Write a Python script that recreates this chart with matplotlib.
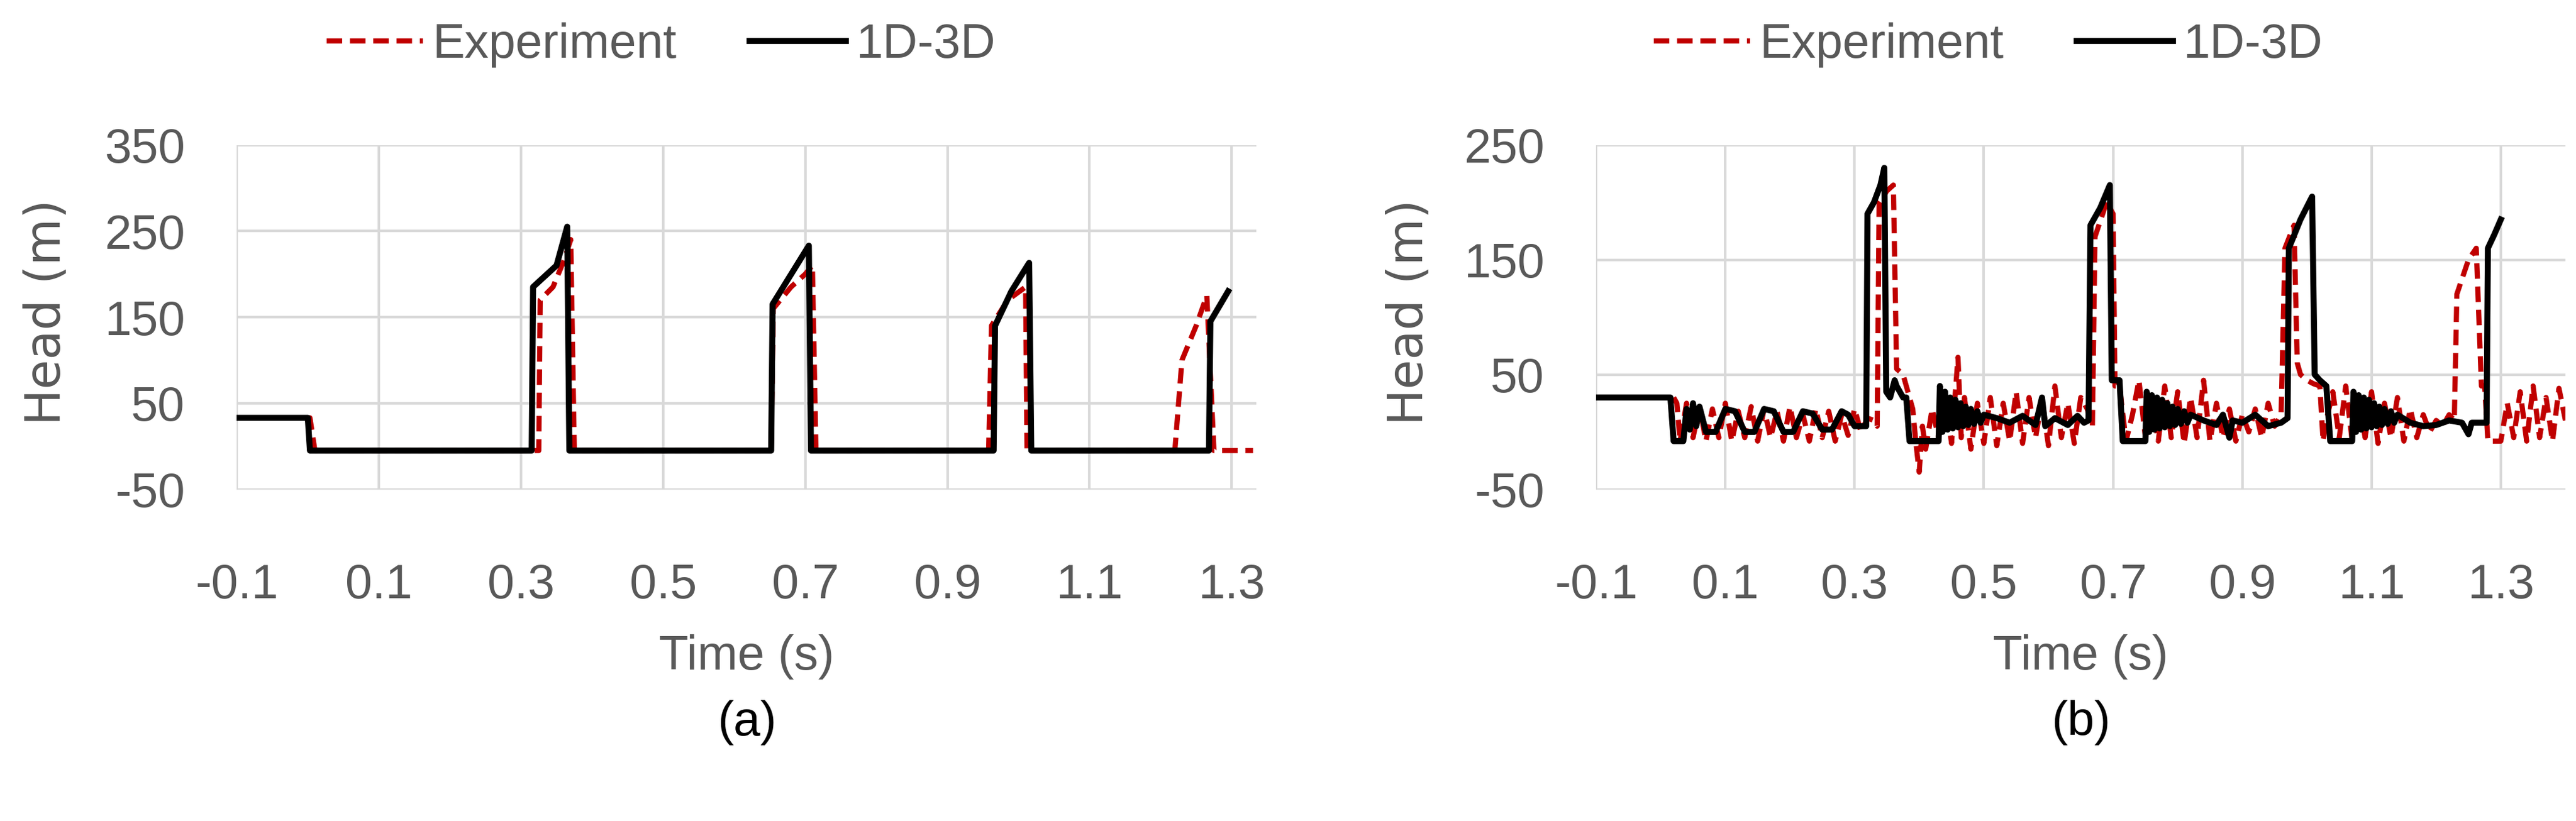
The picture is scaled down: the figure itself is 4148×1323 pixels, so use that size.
import matplotlib
matplotlib.use("Agg")
import matplotlib.pyplot as plt
import numpy as np

# ---------- Panel (a) ----------
a_exp_t = [-0.1, 0.003, 0.01, 0.325, 0.327, 0.345, 0.36, 0.37, 0.375, 0.652, 0.655, 0.68, 0.7, 0.71, 0.715,
           0.958, 0.962, 0.985, 1.01, 1.012, 1.22, 1.23, 1.25, 1.265, 1.275, 1.33]
a_exp_h = [33, 33, -5, -5, 170, 185, 215, 240, -5, -5, 160, 185, 200, 210, -5,
           -5, 140, 170, 185, -5, -5, 100, 140, 175, -5, -5]
a_sim_t = [-0.1, 0.0, 0.003, 0.315, 0.317, 0.35, 0.365, 0.368, 0.652, 0.654, 0.705, 0.708,
           0.965, 0.967, 0.99, 1.015, 1.018, 1.268, 1.27, 1.295]
a_sim_h = [33, 33, -5, -5, 185, 210, 255, -5, -5, 165, 233, -5,
           -5, 140, 180, 213, -5, -5, 145, 180]

# ---------- Panel (b) ----------
b_sim_t = [-0.1, 0.015, 0.02, 0.035, 0.04, 0.045, 0.05, 0.055, 0.06, 0.07, 0.085, 0.1, 0.115, 0.13,
           0.145, 0.16, 0.175, 0.19, 0.205, 0.22, 0.235, 0.25, 0.265, 0.28, 0.29, 0.3, 0.318,
           0.32, 0.33, 0.34, 0.346, 0.349, 0.355, 0.362, 0.365, 0.375, 0.38, 0.385, 0.43,
           0.432, 0.436, 0.44, 0.444, 0.448, 0.452, 0.456, 0.46, 0.464, 0.468, 0.472, 0.476,
           0.48, 0.485, 0.49, 0.495, 0.5, 0.52, 0.54, 0.56, 0.58, 0.59, 0.595, 0.61, 0.63,
           0.645, 0.655, 0.662, 0.665, 0.68, 0.695, 0.698, 0.71, 0.715, 0.75,
           0.752, 0.756, 0.76, 0.764, 0.768, 0.772, 0.776, 0.78, 0.784, 0.788, 0.792, 0.796,
           0.8, 0.805, 0.81, 0.815, 0.82, 0.84, 0.86, 0.87, 0.88, 0.885, 0.9, 0.92, 0.94,
           0.96, 0.97, 0.972, 0.99, 1.008, 1.012, 1.02, 1.03, 1.036, 1.07,
           1.072, 1.076, 1.08, 1.084, 1.088, 1.092, 1.096, 1.1, 1.104, 1.108, 1.112, 1.116,
           1.12, 1.125, 1.13, 1.135, 1.14, 1.16, 1.18, 1.2, 1.22, 1.24, 1.25, 1.255, 1.27,
           1.278, 1.28, 1.29, 1.3]
b_sim_h = [30, 30, -8, -8, 20, 2, 25, 5, 22, 0, 0, 20, 18, 0,
           0, 20, 18, 0, 0, 18, 16, 2, 2, 18, 15, 5, 5,
           190, 200, 215, 230, 35, 30, 45, 40, 30, 30, -8, -8,
           40, 0, 35, 2, 30, 3, 28, 4, 25, 5, 22, 6,
           20, 7, 18, 8, 15, 12, 8, 14, 6, 30, 5, 12, 6,
           14, 8, 10, 180, 195, 215, 45, 45, -8, -8,
           35, 0, 32, 2, 30, 3, 28, 4, 25, 5, 22, 6,
           20, 7, 18, 8, 15, 10, 6, 15, -5, 10, 8, 15, 5,
           8, 12, 160, 185, 205, 50, 45, 40, -8, -8,
           35, 0, 32, 2, 30, 3, 28, 4, 25, 5, 22, 6,
           20, 7, 18, 8, 15, 8, 5, 6, 10, 8, -2, 8, 8,
           8, 160, 172, 185]

b_exp_t = [0.02, 0.025, 0.03, 0.04, 0.05, 0.06, 0.07, 0.08, 0.09, 0.1, 0.11, 0.12, 0.13, 0.14,
           0.15, 0.16, 0.17, 0.18, 0.19, 0.2, 0.21, 0.22, 0.23, 0.24, 0.25, 0.26, 0.27, 0.28,
           0.29, 0.3, 0.31, 0.32, 0.33, 0.335, 0.338, 0.35, 0.36, 0.365, 0.375, 0.39, 0.395,
           0.4, 0.405, 0.41, 0.42, 0.43, 0.44, 0.45, 0.46, 0.465, 0.47, 0.48, 0.49, 0.5,
           0.51, 0.52, 0.53, 0.54, 0.55, 0.56, 0.57, 0.58, 0.59, 0.6, 0.61, 0.62, 0.63, 0.64,
           0.65, 0.66, 0.668, 0.672, 0.69, 0.7, 0.703, 0.71, 0.72, 0.73, 0.74, 0.75, 0.76,
           0.77, 0.78, 0.79, 0.8, 0.81, 0.82, 0.83, 0.84, 0.85, 0.86, 0.87, 0.88, 0.89,
           0.9, 0.91, 0.92, 0.93, 0.94, 0.95, 0.96, 0.966, 0.98, 0.985, 0.99, 1.0, 1.01,
           1.02, 1.025, 1.03, 1.04, 1.05, 1.06, 1.07, 1.08, 1.09, 1.1, 1.11, 1.12, 1.13,
           1.14, 1.15, 1.16, 1.17, 1.18, 1.19, 1.2, 1.21, 1.22, 1.228, 1.232, 1.25, 1.262,
           1.27, 1.275, 1.28, 1.3, 1.31, 1.32, 1.33, 1.34, 1.35, 1.36, 1.37, 1.38, 1.39, 1.4]
b_exp_h = [30, 25, -8, 25, -5, 22, -8, 20, -5, 25, -8, 18, -5, 22,
           -8, 20, -5, 18, -8, 22, -5, 15, -8, 20, -5, 18, -8, 15,
           -3, 20, 0, 12, 10, 5, 200, 210, 215, 55, 50, 20, -10,
           -35, 5, -15, 20, -5, 35, -10, 65, -5, 30, -15, 25, -10,
           30, -12, 25, -8, 35, -10, 30, -5, 28, -12, 40, -5, 25, -10,
           30, 20, 5, 170, 200, 190, 40, 40, -8, 15, 45, -5, 30,
           -8, 40, -5, 35, -10, 30, -5, 45, -8, 25, -5, 20, -8,
           15, 0, 20, -5, 25, 5, 15, 160, 180, 60, 50, 45, 42,
           40, -8, 10, 35, -5, 40, -8, 30, -5, 35, -10, 25, -5,
           30, -8, 20, -5, 15, 0, 10, 5, 15, 10, 120, 150, 160,
           40, 40, -8, -8, 25, -5, 35, -8, 40, -5, 30, -8, 38, 10]

RED = "#C00000"
GRID = "#D9D9D9"
TXT = "#595959"
plt.rcParams['font.family'] = ["Liberation Sans", "DejaVu Sans"]

fig = plt.figure(figsize=(41.48, 13.23), dpi=100)

def setup(ax, ylim, yticks, xlim, cap, ylx, legx):
    ax.set_xlim(*xlim)
    ax.set_ylim(*ylim)
    ax.set_yticks(yticks)
    ax.set_yticklabels([str(v) for v in yticks])
    ax.set_xticks([-0.1, 0.1, 0.3, 0.5, 0.7, 0.9, 1.1, 1.3])
    ax.set_xticklabels(["-0.1", "0.1", "0.3", "0.5", "0.7", "0.9", "1.1", "1.3"])
    ax.grid(True, color=GRID, lw=3)
    ax.set_axisbelow(True)
    for s in ax.spines.values():
        s.set_visible(False)
    ax.tick_params(length=0, labelsize=56, labelcolor=TXT)
    ax.tick_params(axis="x", pad=85)
    ax.tick_params(axis="y", pad=60)
    cx = ax.get_position().x0 + ax.get_position().width / 2
    fig.text(cx, 0.2, "Time (s)", ha="center", va="center", fontsize=56, color=TXT)
    fig.text(cx, 0.12, cap, ha="center", va="center", fontsize=56, color="black")
    fig.text(ylx, 0.62, "Head (m)", rotation=90, ha="center", va="center",
             fontsize=56, color=TXT, family=["DejaVu Sans"])
    ax.legend(loc="center", bbox_to_anchor=(legx, 0.945), bbox_transform=fig.transFigure,
              ncol=2, frameon=False, fontsize=56, labelcolor=TXT, handlelength=2.0,
              handletextpad=0.2, columnspacing=1.5)

ax1 = fig.add_axes([0.0919, 0.404, 0.3959, 0.4195])
ax1.plot(a_exp_t, a_exp_h, color=RED, lw=6, ls=(0, (3, 1.5)), label="Experiment", zorder=2)
ax1.plot(a_sim_t, a_sim_h, color="black", lw=7, label="1D-3D", zorder=3)
setup(ax1, (-50, 350), [-50, 50, 150, 250, 350], (-0.1, 1.335), "(a)", 0.018, 0.2565)

ax2 = fig.add_axes([0.6196, 0.404, 0.3763, 0.4195])
ax2.plot(b_exp_t, b_exp_h, color=RED, lw=6, ls=(0, (3, 1.5)), label="Experiment", zorder=2)
ax2.plot(b_sim_t, b_sim_h, color="black", lw=7, label="1D-3D", zorder=3)
setup(ax2, (-50, 250), [-50, 50, 150, 250], (-0.1, 1.4), "(b)", 0.547, 0.7717)

fig.savefig("out.png", dpi=100)
